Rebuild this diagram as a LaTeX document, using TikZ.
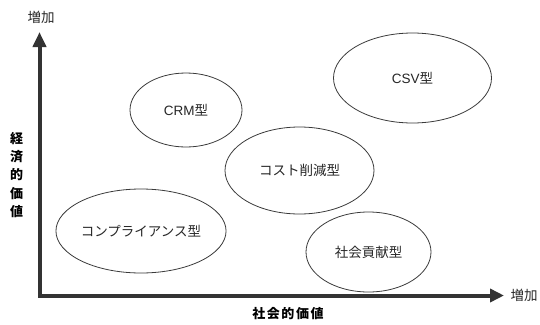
\documentclass[tikz,border=0pt]{standalone}
\usepackage{fontspec}
\setmainfont{Noto Sans CJK JP}
\newfontfamily\latinsans{Liberation Sans}
\usetikzlibrary{arrows.meta,shapes.geometric}
\definecolor{axisgray}{HTML}{333333}
\definecolor{linegray}{HTML}{3A3A3A}
\begin{document}
\begin{tikzpicture}[x=1pt,y=-1pt,
  typeoval/.style={ellipse,draw=linegray,line width=0.8pt,inner sep=0pt,
    font=\fontsize{13.5}{15}\selectfont,text=black!85},
  axislabel/.style={font=\fontsize{13.5}{15}\selectfont,text=black!85,inner sep=0pt},
  axistitle/.style={font=\bfseries\fontsize{13}{18.3}\selectfont,inner sep=0pt,align=center},
  axisline/.style={draw=axisgray,line width=4pt,line join=miter,
    {Triangle[length=15pt,width=13pt]}-{Triangle[length=14pt,width=13pt]}}]
\useasboundingbox (0,0) rectangle (540,324);
% axes
\coordinate (ytop) at (39.5,32);
\coordinate (orig) at (39.5,295.5);
\coordinate (xend) at (504,295.5);
\draw[axisline] (ytop) -- (orig) -- (xend);
% axis labels
\node[axislabel] (ymore) at (41,17) {増加};
\node[axislabel] (xmore) at (524,295.5) {増加};
\node[axistitle] (ytitle) at (16.5,175) {経\\済\\的\\価\\値};
\node[axistitle] (xtitle) at (288,314) {\addfontfeature{LetterSpace=12}社会的価値};
% ovals
\node[typeoval,minimum width=112pt,minimum height=74pt] (crm) at (186,110) {{\latinsans CRM}型};
\node[typeoval,minimum width=158pt,minimum height=90pt] (csv) at (412.5,78) {{\latinsans CSV}型};
\node[typeoval,minimum width=149pt,minimum height=87pt] (cost) at (299.5,170.5) {コスト削減型};
\node[typeoval,minimum width=144pt,minimum height=84pt] (comp) at (141,231) {コンプライアンス型};
\node[typeoval,minimum width=125pt,minimum height=80pt] (soc) at (368.5,252) {社会貢献型};
\end{tikzpicture}
\end{document}
